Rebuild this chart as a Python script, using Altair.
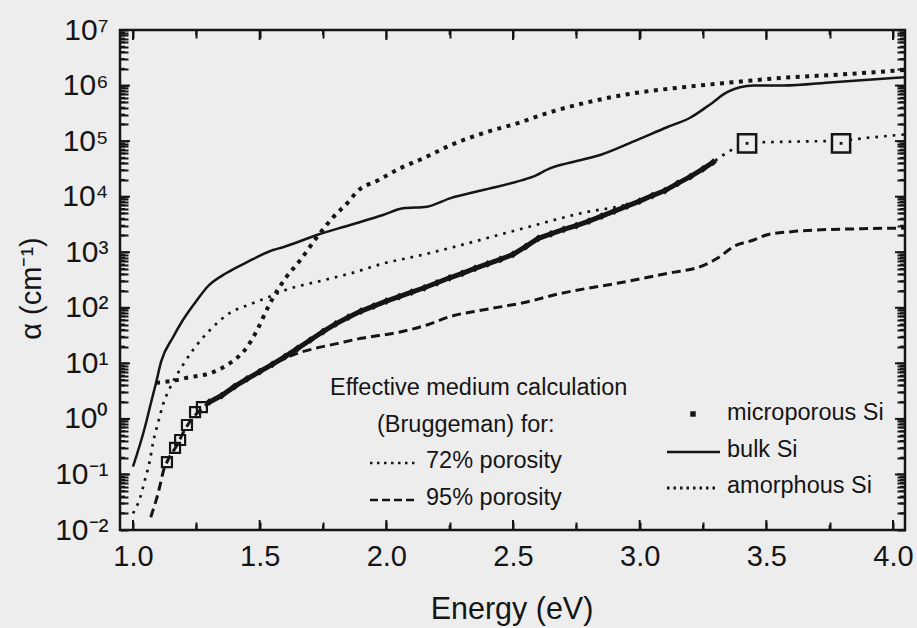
import json
import altair as alt
import pandas as pd

# ---------------- values (E in eV, log10 alpha in cm^-1) ----------------
bulk_E = [1.000, 1.047, 1.071, 1.091, 1.111, 1.158, 1.197, 1.253, 1.292, 1.371, 1.450, 1.553,
          1.592, 1.726, 1.857, 1.987, 2.066, 2.161, 2.251, 2.382, 2.516, 2.579, 2.646, 2.713,
          2.844, 2.974, 3.108, 3.199, 3.278, 3.345, 3.396, 3.450, 3.566, 3.763, 4.047]
bulk_logA = [-0.86, -0.15, 0.29, 0.65, 1.03, 1.47, 1.78, 2.14, 2.37, 2.63, 2.82, 3.04,
             3.09, 3.31, 3.49, 3.67, 3.79, 3.82, 3.97, 4.12, 4.27, 4.36, 4.51, 4.60,
             4.75, 4.99, 5.25, 5.42, 5.66, 5.88, 5.97, 6.00, 6.00, 6.06, 6.15]

amor_E = [1.091, 1.150, 1.213, 1.316, 1.371, 1.411, 1.450, 1.490, 1.533, 1.553, 1.600, 1.659,
          1.726, 1.790, 1.857, 1.880, 1.970, 2.050, 2.160, 2.250, 2.380, 2.516, 2.646, 2.777,
          2.974, 3.171, 3.369, 3.566, 3.763, 3.988, 4.047]
amor_logA = [0.65, 0.68, 0.74, 0.84, 0.97, 1.10, 1.29, 1.60, 2.01, 2.18, 2.52, 2.85,
             3.27, 3.63, 3.94, 4.07, 4.30, 4.50, 4.72, 4.92, 5.14, 5.32, 5.52, 5.68,
             5.86, 5.97, 6.06, 6.14, 6.19, 6.26, 6.28]

p72_E = [1.000, 1.028, 1.047, 1.067, 1.079, 1.099, 1.118, 1.146, 1.178, 1.197, 1.237, 1.304,
         1.383, 1.460, 1.550, 1.590, 1.690, 1.730, 1.790, 1.860, 1.990, 2.120, 2.220, 2.516,
         2.777, 2.974, 3.050, 3.100, 3.150, 3.200, 3.250, 3.290, 3.330, 3.370, 3.424, 3.600,
         3.795, 3.900, 4.047]
p72_logA = [-1.70, -1.42, -1.10, -0.74, -0.43, -0.07, 0.25, 0.56, 0.83, 0.97, 1.24, 1.60,
            1.91, 2.06, 2.22, 2.30, 2.43, 2.47, 2.54, 2.62, 2.80, 2.93, 3.04, 3.40,
            3.71, 3.89, 4.02, 4.12, 4.24, 4.36, 4.50, 4.62, 4.75, 4.86, 4.97, 4.99,
            5.01, 5.06, 5.12]

p95_E = [1.070, 1.105, 1.118, 1.140, 1.170, 1.210, 1.270, 1.350, 1.450, 1.550, 1.630, 1.720,
         1.800, 1.900, 2.050, 2.160, 2.250, 2.380, 2.550, 2.690, 2.910, 3.110, 3.250, 3.310,
         3.370, 3.450, 3.500, 3.600, 3.700, 3.850, 3.960, 4.047]
p95_logA = [-1.77, -1.23, -0.97, -0.72, -0.50, -0.15, 0.18, 0.42, 0.70, 0.97, 1.15, 1.27,
            1.35, 1.45, 1.56, 1.69, 1.84, 1.96, 2.10, 2.26, 2.44, 2.62, 2.76, 2.90,
            3.10, 3.22, 3.31, 3.37, 3.40, 3.42, 3.43, 3.43]

micro_E = [1.30, 1.35, 1.40, 1.45, 1.50, 1.55, 1.60, 1.65, 1.70, 1.75, 1.80, 1.85, 1.90, 1.95,
           2.00, 2.05, 2.10, 2.15, 2.20, 2.25, 2.30, 2.35, 2.40, 2.45, 2.50, 2.55, 2.60, 2.65,
           2.70, 2.75, 2.80, 2.85, 2.90, 2.95, 3.00, 3.05, 3.10, 3.15, 3.20, 3.25, 3.29]
micro_logA = [0.30, 0.42, 0.58, 0.72, 0.85, 0.98, 1.12, 1.27, 1.42, 1.57, 1.71, 1.83, 1.94, 2.03,
              2.12, 2.20, 2.28, 2.36, 2.45, 2.54, 2.62, 2.71, 2.79, 2.87, 2.96, 3.10, 3.25, 3.33,
              3.41, 3.48, 3.56, 3.65, 3.74, 3.83, 3.92, 4.02, 4.11, 4.24, 4.36, 4.50, 4.62]

micro_open_E = [1.134, 1.166, 1.186, 1.213, 1.245, 1.272]
micro_open_logA = [-0.78, -0.52, -0.38, -0.11, 0.12, 0.21]
micro_big_E = [3.424, 3.795]
micro_big_logA = [4.96, 4.96]

x_major = [1.0, 1.5, 2.0, 2.5, 3.0, 3.5, 4.0]
x_minor = [1.25, 1.75, 2.25, 2.75, 3.25, 3.75]
y_exponents = [-2, -1, 0, 1, 2, 3, 4, 5, 6, 7]
y_tick_labels = ["10⁻²", "10⁻¹", "10⁰", "10¹", "10²", "10³", "10⁴", "10⁵", "10⁶", "10⁷"]
y_minor_mult = [2, 3, 4, 5, 6, 7, 8, 9]

x_title = "Energy (eV)"
y_title = "α (cm⁻¹)"
ema_texts = ["Effective medium calculation", "(Bruggeman) for:", "72% porosity", "95% porosity"]
legend_texts = ["microporous Si", "bulk Si", "amorphous Si"]

# ---------------- layout / style ----------------
W, H = 785, 500
INK = "#151515"
BG = "#ededed"
FONT = "Liberation Sans"
X_DOMAIN = [0.9487, 4.0474]
MAJOR_LEN, MINOR_LEN = 10, 5
GRID_TICK = 8  # inward tick length drawn with dashed grid lines

y_major = [10.0 ** e for e in y_exponents]
y_minor = [m * 10.0 ** e for e in y_exponents[:-1] for m in y_minor_mult]


def curve(E, lg):
    return pd.DataFrame({"E": E, "alpha": [10.0 ** v for v in lg]})


xscale = alt.Scale(domain=X_DOMAIN, nice=False, zero=False)
yscale = alt.Scale(type="log", domain=[1e-2, 1e7], nice=False)

LOG10 = "(log(datum.value)/LN10)"
xaxis = alt.Axis(values=sorted(x_major + x_minor), format=".1f",
                 labelExpr="datum.value * 2 == round(datum.value * 2) ? datum.label : ''",
                 labelFontSize=29, labelFont=FONT, labelColor=INK,
                 labelPadding=12, ticks=False, domain=False,
                 grid=True, gridColor=INK, gridWidth=2, gridOpacity=1,
                 gridDash=[GRID_TICK, H - 2 * GRID_TICK, GRID_TICK, 0],
                 labelFlush=False, labelOverlap=False,
                 title=x_title, titleFont=FONT, titleFontSize=30.5, titleFontWeight="normal",
                 titleColor=INK, titleX=391.5, titleY=88, titleAlign="center",
                 titleBaseline="alphabetic")
yaxis = alt.Axis(values=y_major + y_minor,
                 labelExpr=f"abs({LOG10} - round({LOG10})) < 1e-6 ? "
                           + json.dumps(y_tick_labels, ensure_ascii=False)
                           + f"[round({LOG10})+2] : ''",
                 labelFontSize=30, labelFont=FONT, labelColor=INK, labelPadding=12,
                 ticks=False, domain=False,
                 grid=True, gridColor=INK, gridWidth=2, gridOpacity=1,
                 gridDash=[GRID_TICK, W - 2 * GRID_TICK, GRID_TICK, 0],
                 labelFlush=False, labelOverlap=False,
                 title=y_title, titleFont=FONT, titleFontSize=29, titleFontWeight="normal",
                 titleColor=INK, titleAngle=270, titleX=-80, titleY=258, titleAlign="center",
                 titleBaseline="alphabetic")


def X(f):
    return alt.X(f"{f}:Q", scale=xscale, axis=xaxis)


def Y(f):
    return alt.Y(f"{f}:Q", scale=yscale, axis=yaxis)


layers = []


# inward ticks as marks as well (same geometry as the grid ticks)
def xticks(vals, length):
    out = []
    for y1, y2 in ((H, H - length), (0, length)):
        out.append(alt.Chart(pd.DataFrame({"E": vals})).mark_rule(color=INK, strokeWidth=2)
                   .encode(x=X("E"), y=alt.value(y1), y2=alt.value(y2)))
    return out


def yticks(vals, length):
    out = []
    for x1, x2 in ((0, length), (W, W - length)):
        out.append(alt.Chart(pd.DataFrame({"alpha": vals})).mark_rule(color=INK, strokeWidth=2)
                   .encode(y=Y("alpha"), x=alt.value(x1), x2=alt.value(x2)))
    return out


layers += xticks(x_major, MAJOR_LEN) + xticks(x_minor, MINOR_LEN)
layers += yticks(y_major, MAJOR_LEN) + yticks(y_minor, MINOR_LEN)

# curves
layers.append(alt.Chart(curve(p95_E, p95_logA)).mark_line(
    color=INK, strokeWidth=3, strokeDash=[9, 5], interpolate="monotone"
).encode(x=X("E"), y=Y("alpha")))
layers.append(alt.Chart(curve(p72_E, p72_logA)).mark_line(
    color=INK, strokeWidth=2.7, strokeDash=[2.7, 6], interpolate="monotone"
).encode(x=X("E"), y=Y("alpha")))
layers.append(alt.Chart(curve(amor_E, amor_logA)).mark_line(
    color=INK, strokeWidth=4, strokeDash=[4, 5.5], interpolate="monotone"
).encode(x=X("E"), y=Y("alpha")))
layers.append(alt.Chart(curve(bulk_E, bulk_logA)).mark_line(
    color=INK, strokeWidth=2.5, interpolate="monotone"
).encode(x=X("E"), y=Y("alpha")))

# microporous Si data
micro = curve(micro_E, micro_logA)
layers.append(alt.Chart(micro).mark_line(color=INK, strokeWidth=5)
              .encode(x=X("E"), y=Y("alpha")))
layers.append(alt.Chart(micro).mark_point(shape="diamond", filled=True, size=60, color=INK,
                                          opacity=1)
              .encode(x=X("E"), y=Y("alpha")))
layers.append(alt.Chart(curve(micro_open_E, micro_open_logA)).mark_point(
    shape="square", filled=False, size=100, strokeWidth=2.2, color=INK, opacity=1
).encode(x=X("E"), y=Y("alpha")))
big = curve(micro_big_E, micro_big_logA)
layers.append(alt.Chart(big).mark_point(shape="square", filled=True, size=330, color=BG,
                                        stroke=INK, strokeWidth=2.5, opacity=1)
              .encode(x=X("E"), y=Y("alpha")))
layers.append(alt.Chart(big).mark_point(shape="square", filled=True, size=8, color=INK, opacity=1)
              .encode(x=X("E"), y=Y("alpha")))

# annotation text (effective medium) and legend, each on a one-row table
one = pd.DataFrame({"k": [0]})


def txt(s, x, y, size=23.5):
    return alt.Chart(one).mark_text(text=s, font=FONT, fontSize=size, color=INK, align="left",
                                    baseline="alphabetic").encode(x=alt.value(x), y=alt.value(y))


def sample(x1, x2, y, width, dash=None):
    kw = dict(color=INK, strokeWidth=width)
    if dash:
        kw["strokeDash"] = dash
    return alt.Chart(one).mark_rule(**kw).encode(x=alt.value(x1), x2=alt.value(x2), y=alt.value(y))


layers += [
    txt(ema_texts[0], 210, 365),
    txt(ema_texts[1], 257, 402),
    sample(250, 298, 433, 2.5, [2.5, 4.5]),
    txt(ema_texts[2], 306, 438),
    sample(250, 298, 470, 2.5, [8, 4]),
    txt(ema_texts[3], 306, 475),
    alt.Chart(one).mark_point(shape="square", filled=True, size=30, color=INK, opacity=1)
    .encode(x=alt.value(573), y=alt.value(384)),
    txt(legend_texts[0], 607, 390),
    sample(547, 600, 422, 2.5),
    txt(legend_texts[1], 607, 427),
    sample(547, 598, 458, 3, [2.5, 4]),
    txt(legend_texts[2], 607, 463),
]

chart = alt.layer(*layers).properties(
    width=W, height=H,
    autosize=alt.AutoSizeParams(type="none"),
    padding={"left": 120, "top": 30, "right": 12, "bottom": 98},
).configure(background=BG).configure_view(stroke=INK, strokeWidth=2.5)

chart.save("out.html", embed_options={"renderer": "svg", "actions": False})
